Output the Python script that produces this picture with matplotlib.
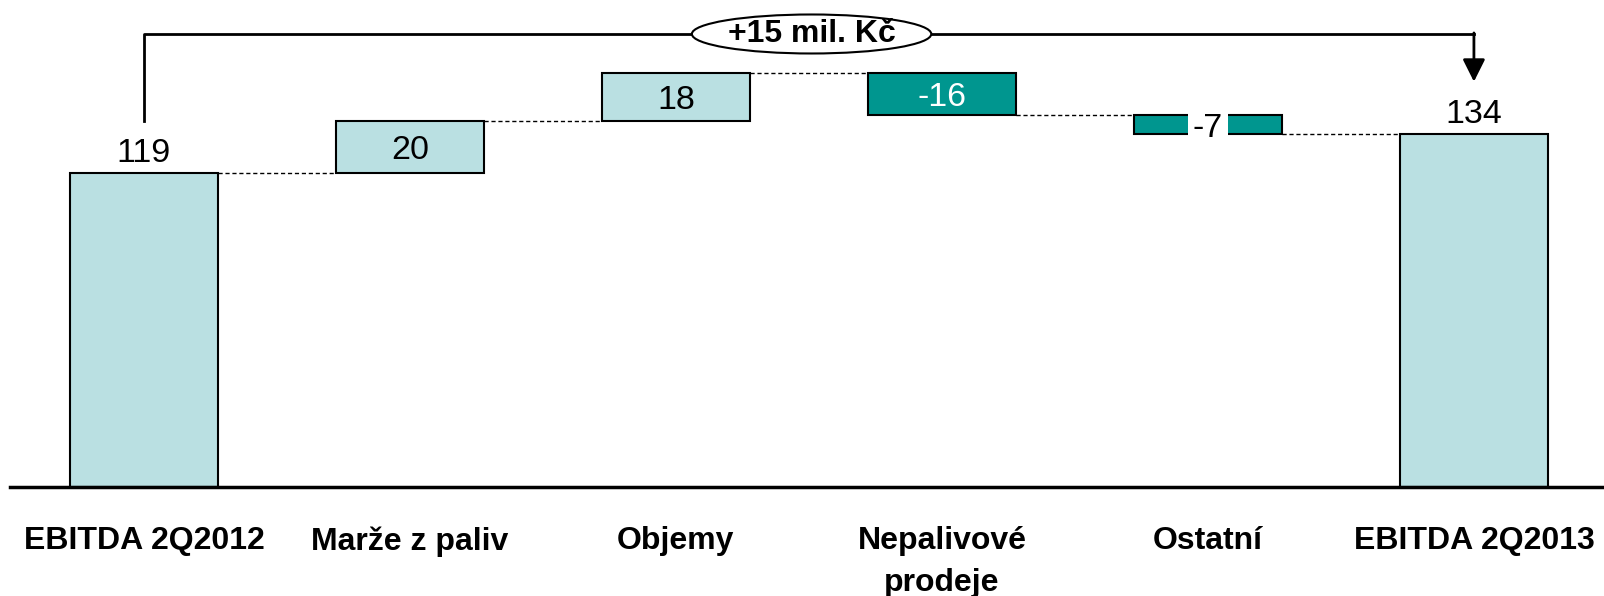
import matplotlib.pyplot as plt
from matplotlib.patches import Ellipse

categories = ['EBITDA 2Q2012', 'Marže z paliv', 'Objemy', 'Nepalivové\nprodeje', 'Ostatní', 'EBITDA 2Q2013']
values = [119, 20, 18, -16, -7, 134]
kinds = ['total', 'delta', 'delta', 'delta', 'delta', 'total']
change_label = '+15 mil. Kč'

light = '#BAE0E2'
teal = '#00968F'

plt.rcParams['font.family'] = ['Liberation Sans', 'DejaVu Sans']

fig = plt.figure(figsize=(16.04, 5.96), dpi=100)
ax = fig.add_axes([0, 0, 1, 1])
ax.set_xlim(-0.541, 5.489)
ax.set_ylim(-41.4, 184.8)
ax.axis('off')

width = 0.556
running = 0
levels = []
for i, (v, k) in enumerate(zip(values, kinds)):
    if k == 'total':
        bottom, h = 0, v
        running = v
        color = light
    else:
        bottom = running if v > 0 else running + v
        h = abs(v)
        running += v
        color = light if v > 0 else teal
    ax.bar(i, h, bottom=bottom, width=width, color=color,
           edgecolor='black', linewidth=1.5, zorder=2)
    levels.append(running)

    if k == 'total':
        ax.annotate(str(v), (i, v), xytext=(0, 3), textcoords='offset points',
                    ha='center', va='bottom', fontsize=24.5)
    elif v < 0 and h < 10:
        ax.text(i, bottom + h / 2, str(v), ha='center', va='center_baseline',
                fontsize=24.5, zorder=5,
                bbox=dict(facecolor='white', edgecolor='none', pad=3.5))
    else:
        ax.text(i, bottom + h / 2, str(v), ha='center', va='center_baseline',
                fontsize=24.5, color='white' if v < 0 else 'black', zorder=5)

# dashed connectors
for i in range(len(values) - 1):
    ax.plot([i + width / 2, i + 1 - width / 2], [levels[i], levels[i]],
            color='black', lw=1, ls=(0, (3, 2)), zorder=1)

# baseline
ax.plot([-0.504, 5.489], [0, 0], color='black', lw=2.5, zorder=3)

# category labels
for i, c in enumerate(categories):
    ax.text(i, -14.9, c, ha='center', va='top', fontsize=23,
            fontweight='bold', linespacing=1.5)

# bracket with total change
top_y = 171.9
ax.plot([0, 0, 5], [139, top_y, top_y], color='black', lw=2, zorder=3)
ax.annotate('', xy=(5, 153.8), xytext=(5, top_y + 0.4),
            arrowprops=dict(arrowstyle='-|>', color='black', lw=2,
                            mutation_scale=34, shrinkA=0, shrinkB=0), zorder=3)
ax.add_patch(Ellipse((2.51, top_y), 0.9, 14.8, facecolor='white',
                     edgecolor='black', lw=1.5, zorder=4))
ax.text(2.51, top_y, change_label, ha='center', va='center', fontsize=23,
        fontweight='bold', zorder=5)

fig.savefig('out.png', dpi=100)
